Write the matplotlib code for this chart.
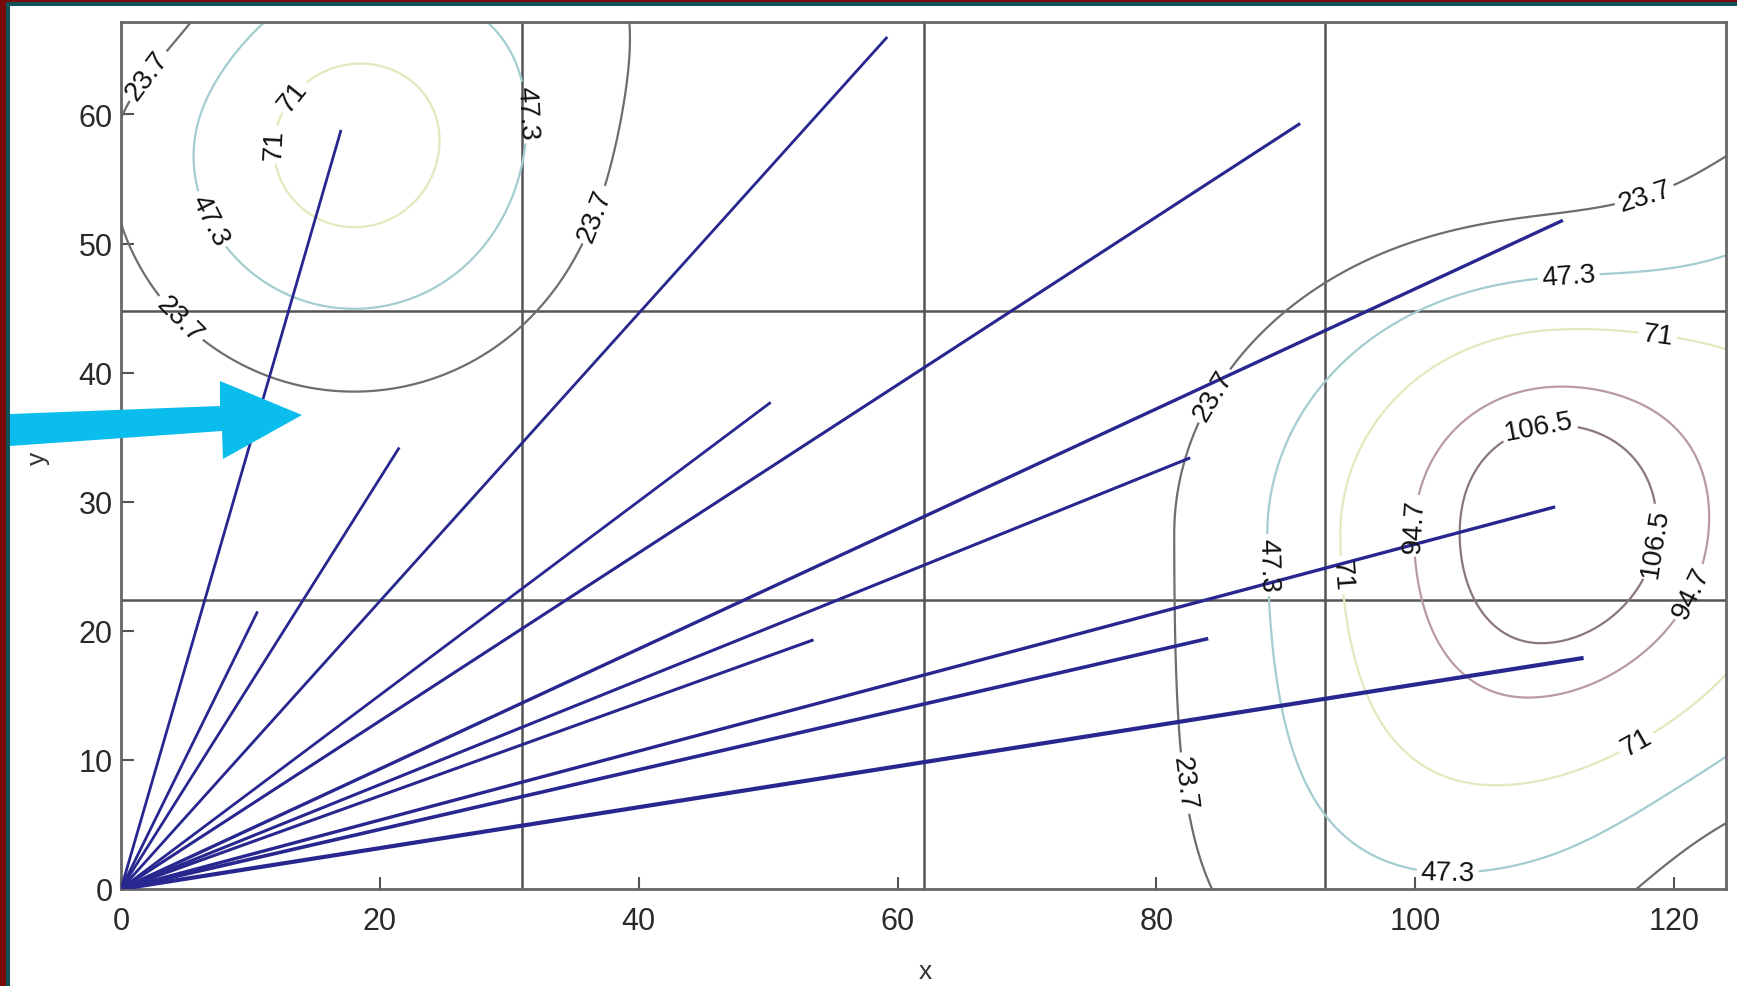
import numpy as np
import matplotlib
matplotlib.use("Agg")
import matplotlib.pyplot as plt
from matplotlib.patches import Polygon, Rectangle

# ---------------- data ----------------
x_limits = [0, 124]
y_limits = [0, 67.2]
x_ticks = [0, 20, 40, 60, 80, 100, 120]
y_ticks = [0, 10, 20, 30, 40, 50, 60]
grid_x = [31, 62, 93]
grid_y = [22.4, 44.8]

# round bumps of the field
bump_x = [18.0, 38.0, 0.0, 135.0, 127.0]
bump_y = [57.5, 72.0, 72.0, 50.0, -2.0]
bump_amp = [81.0, 13.0, -22.0, 40.0, -20.0]
bump_sigma = [12.1, 9.0, 6.0, 10.0, 7.0]

# main right-hand peak (flatter top with steeper upper flank, lower flank leaning left)
peak_x = 110.5
peak_y = 27.5
peak_amp = 117.0
peak_sigma_left = 16.3
peak_sigma_right = 18.0
peak_sigma_down = 19.5
peak_sigma_up = 14.35
peak_pow_up = 2.6
peak_lean_down = 0.011

contour_levels = [23.7, 47.3, 71.0, 94.7, 106.5]
contour_labels = ["23.7", "47.3", "71", "94.7", "106.5"]
contour_colors = ["#6e6e6e", "#a3cdd0", "#e4e8bd", "#b89aa3", "#8a7878"]

label_pos_x = [2.7, 11.9, 13.4, 6.6, 4.4, 32.1, 37.9, 117.8, 111.9, 118.7, 86.3,
               109.7, 100.8, 117.6, 121.2, 88.8, 94.1, 117.3, 80.7, 102.5]
label_pos_y = [62.5, 57.7, 61.3, 51.7, 44.0, 60.2, 51.7, 53.4, 46.7, 42.7, 37.1,
               35.0, 28.1, 27.0, 23.0, 25.1, 24.3, 11.0, 8.0, 1.5]

ray_end_x = [17.0, 10.55, 21.5, 59.2, 50.2, 91.1, 82.6, 111.4, 53.5, 84.0, 110.8, 113.0]
ray_end_y = [58.8, 21.5, 34.2, 66.0, 37.7, 59.3, 33.4, 51.8, 19.3, 19.4, 29.6, 17.9]
ray_width = [2.0, 2.0, 2.0, 2.0, 2.0, 2.2, 2.2, 2.4, 2.2, 2.6, 2.4, 3.0]

# ---------------- figure ----------------
W, H = 1737, 987
fig = plt.figure(figsize=(W / 100, H / 100), dpi=100, facecolor="white")
plt.rcParams["font.family"] = ["Liberation Sans", "DejaVu Sans"]

ax = fig.add_axes([121 / W, 97 / H, (1726 - 121) / W, (964.5 - 97) / H])
ax.set_facecolor("white")

# contour field
gx = np.linspace(x_limits[0], x_limits[1], 600)
gy = np.linspace(y_limits[0], y_limits[1], 360)
X, Y = np.meshgrid(gx, gy)
Z = np.zeros_like(X)
for x0, y0, a, s in zip(bump_x, bump_y, bump_amp, bump_sigma):
    Z += a * np.exp(-((X - x0) ** 2 + (Y - y0) ** 2) / (2 * s ** 2))
dy = Y - peak_y
dxs = X - peak_x + np.where(dy < 0, peak_lean_down * dy ** 2, 0.0)
sx = np.where(dxs < 0, peak_sigma_left, peak_sigma_right)
sy = np.where(dy < 0, peak_sigma_down, peak_sigma_up)
q = 0.5 * ((dxs / sx) ** 2 + (dy / sy) ** 2)
w = np.where(dy > 0, dy ** 2 / (dxs ** 2 + dy ** 2 + 1e-9), 0.0)
p = 2 + (peak_pow_up - 2) * w
Z += peak_amp * np.exp(-q ** (p / 2))

cs = ax.contour(X, Y, Z, levels=contour_levels, colors=contour_colors,
                linewidths=1.6, zorder=2)
fmt = dict(zip(contour_levels, contour_labels))
ax.clabel(cs, contour_levels, fmt=fmt, fontsize=20, colors="#111111",
          inline=True, inline_spacing=4,
          manual=list(zip(label_pos_x, label_pos_y)))

# grid partition lines
for gxv in grid_x:
    ax.axvline(gxv, color="#555555", lw=1.8, zorder=1.5)
for gyv in grid_y:
    ax.axhline(gyv, color="#555555", lw=1.8, zorder=1.5)

# rays from the origin
for ex, ey, lw in zip(ray_end_x, ray_end_y, ray_width):
    ax.plot([0, ex], [0, ey], color="#27278f", lw=lw, solid_capstyle="butt", zorder=3)

ax.set_xlim(x_limits)
ax.set_ylim(y_limits)
ax.set_xticks(x_ticks)
ax.set_yticks(y_ticks)
ax.tick_params(axis="both", direction="in", length=9, width=1.5, color="#555555",
               labelsize=22, labelcolor="#2a2a2a")
ax.tick_params(axis="x", pad=12)
ax.tick_params(axis="y", pad=6)
for sp in ax.spines.values():
    sp.set_color("#666666")
    sp.set_linewidth(2)

fig.text(925 / W, 1 - 972 / H, "x", fontsize=19, color="#333333", ha="center", va="center")
fig.text(38 / W, 1 - 458 / H, "y", fontsize=19, color="#333333", ha="center", va="center",
         rotation=90)

# cyan arrow (annotation)
arrow_px = [(10, 415), (220, 407), (220, 382), (302, 416), (223, 460), (222, 432), (10, 447)]
arrow = Polygon([(px / W, 1 - py / H) for px, py in arrow_px], closed=True,
                transform=fig.transFigure, facecolor="#0bbdec", edgecolor="none", zorder=10)
fig.patches.append(arrow)

# slide frame strips
fig.patches.append(Rectangle((0, 0), 6 / W, 1, transform=fig.transFigure,
                             facecolor="#7a0b0b", edgecolor="none", zorder=11))
fig.patches.append(Rectangle((6 / W, 0), 4 / W, 1 - 3 / H, transform=fig.transFigure,
                             facecolor="#0f5156", edgecolor="none", zorder=11))
fig.patches.append(Rectangle((0, 1 - 3 / H), 1, 3 / H, transform=fig.transFigure,
                             facecolor="#7a0b0b", edgecolor="none", zorder=11))
fig.patches.append(Rectangle((6 / W, 1 - 7 / H), 1, 4 / H, transform=fig.transFigure,
                             facecolor="#0f5156", edgecolor="none", zorder=11))

fig.savefig("out.png", dpi=100, facecolor="white")
